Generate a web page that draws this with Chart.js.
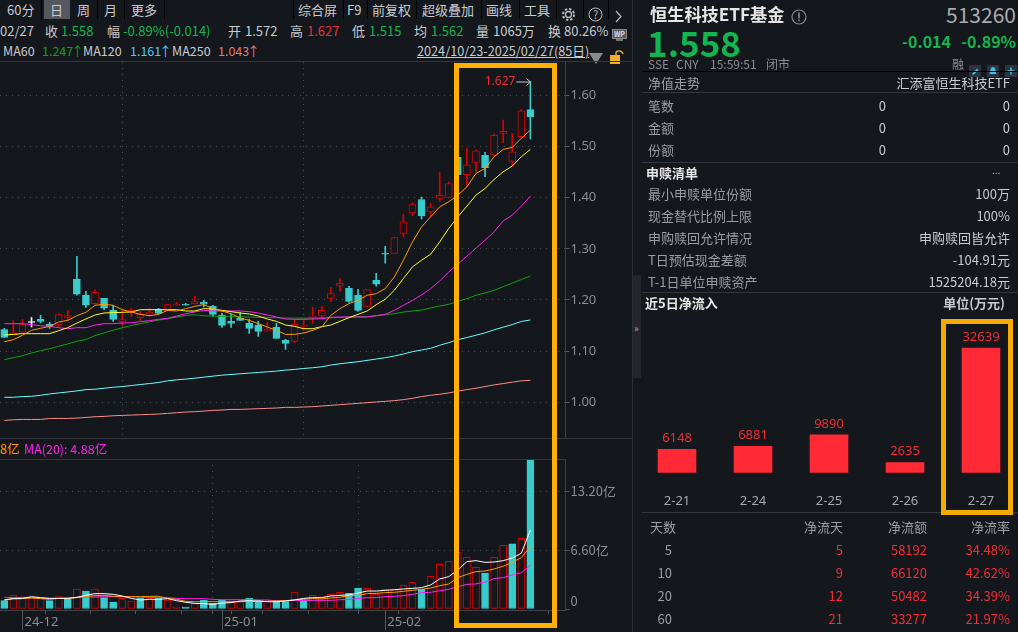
<!DOCTYPE html>
<html>
<head>
<meta charset="utf-8">
<script src="https://cdn.jsdelivr.net/npm/chart.js@4"></script>
<style>
  html, body { margin: 0; padding: 0; background: #14171c; width: 1018px; height: 632px; overflow: hidden; }
  body { position: relative; font-family: "Noto Sans CJK SC", "Noto Sans", sans-serif; }
  canvas { position: absolute; }
  .txt { position: absolute; white-space: nowrap; }
  .box { position: absolute; box-sizing: border-box; border: 5px solid #ffb000; }
  .rule { position: absolute; background: #33363c; }
</style>
</head>
<body>
<canvas id="priceChart" width="630" height="376" style="left:0;top:62px"></canvas>
<canvas id="volumeChart" width="630" height="173" style="left:0;top:459px"></canvas>
<canvas id="flowChart" width="380" height="190" style="left:639px;top:325px"></canvas>
<script>
const openPrices = [1.142,1.132,1.137,1.156,1.1623,1.1524,1.1511,1.1661,1.2405,1.2092,1.1929,1.2033,1.1798,1.157,1.176,1.1656,1.1727,1.1818,1.1786,1.1897,1.1916,1.1922,1.1955,1.1876,1.17,1.1583,1.1642,1.1544,1.1505,1.1394,1.1465,1.1211,1.1192,1.1485,1.1661,1.1687,1.2033,1.2275,1.2229,1.2092,1.1876,1.2385,1.2914,1.2908,1.3299,1.3703,1.3964,1.3723,1.3984,1.4003,1.4786,1.4447,1.4688,1.4825,1.4832,1.5256,1.4708,1.5191,1.572];
const highPrices = [1.1446,1.16,1.162,1.1655,1.17,1.1564,1.1733,1.1798,1.2855,1.217,1.2203,1.2033,1.1896,1.1798,1.1838,1.1779,1.1838,1.1838,1.1916,1.1955,1.1936,1.2073,1.1994,1.1896,1.1739,1.172,1.1759,1.1622,1.1583,1.1564,1.1544,1.1231,1.1602,1.1622,1.1857,1.1876,1.2248,1.2424,1.2268,1.2209,1.2203,1.2522,1.3051,1.3221,1.3677,1.3899,1.401,1.3886,1.4499,1.431,1.4799,1.4969,1.493,1.4884,1.5243,1.5517,1.5256,1.5726,1.627];
const lowPrices = [1.1263,1.132,1.137,1.1472,1.1551,1.1446,1.1485,1.1602,1.2092,1.1857,1.1916,1.1811,1.1583,1.1505,1.1681,1.1602,1.1681,1.1733,1.178,1.1897,1.1897,1.1916,1.1864,1.1681,1.1465,1.1465,1.1602,1.1348,1.1289,1.1387,1.125,1.1035,1.1172,1.1407,1.1544,1.1642,1.1974,1.217,1.1955,1.1779,1.1876,1.2268,1.2718,1.2908,1.3234,1.3645,1.3586,1.3625,1.3925,1.4003,1.4447,1.4212,1.4506,1.4408,1.4799,1.5073,1.4617,1.5171,1.515];
const closePrices = [1.127,1.136,1.152,1.156,1.1583,1.1485,1.1713,1.1694,1.2112,1.1897,1.215,1.1838,1.1622,1.1616,1.1798,1.1721,1.176,1.174,1.1909,1.1916,1.1897,1.1968,1.1916,1.172,1.1505,1.1544,1.1602,1.1446,1.1387,1.1426,1.125,1.1152,1.1524,1.1505,1.1681,1.1798,1.2125,1.2327,1.1974,1.1798,1.2203,1.2307,1.2894,1.3221,1.3527,1.3866,1.3645,1.3821,1.4043,1.4277,1.4447,1.4643,1.4917,1.4584,1.5217,1.5295,1.4897,1.5699,1.558];

const ma5 = [1.1185,1.1224,1.1309,1.1407,1.1446,1.1485,1.157,1.1602,1.1694,1.1759,1.1896,1.1916,1.1896,1.1811,1.1766,1.172,1.1694,1.172,1.1798,1.1785,1.1831,1.1876,1.1909,1.1831,1.1785,1.1733,1.1648,1.1602,1.1537,1.1472,1.1407,1.1328,1.1328,1.1355,1.1407,1.1472,1.17,1.1831,1.1929,1.1994,1.2092,1.2124,1.2223,1.245,1.2777,1.3135,1.3429,1.3624,1.3821,1.3919,1.4049,1.4212,1.4473,1.4571,1.4799,1.4943,1.4982,1.5158,1.5321];
const ma10 = [1.1315,1.1328,1.1342,1.1342,1.1342,1.1342,1.14,1.1459,1.155,1.1629,1.1707,1.1746,1.1752,1.1759,1.1766,1.1811,1.1811,1.1811,1.1811,1.1811,1.1785,1.1785,1.1831,1.1824,1.1798,1.1772,1.1746,1.1726,1.1687,1.1629,1.1583,1.1511,1.1485,1.1439,1.1439,1.1479,1.1511,1.1583,1.1655,1.172,1.1785,1.1909,1.2014,1.219,1.2419,1.2646,1.2777,1.2894,1.3135,1.3397,1.3625,1.3834,1.4049,1.418,1.4356,1.4506,1.4617,1.4799,1.4943];
const ma20 = [1.1537,1.1537,1.1537,1.1518,1.1498,1.1485,1.1459,1.1439,1.1459,1.1459,1.1511,1.1537,1.1537,1.155,1.1557,1.1576,1.1596,1.1622,1.1642,1.1687,1.1733,1.1766,1.1798,1.1785,1.1785,1.1785,1.1785,1.1772,1.1746,1.1707,1.1668,1.1629,1.1622,1.1622,1.1629,1.1635,1.1661,1.1668,1.1668,1.1668,1.1668,1.1694,1.172,1.1798,1.1896,1.1994,1.2098,1.2223,1.2372,1.2548,1.2699,1.2856,1.3013,1.3169,1.3332,1.3547,1.3658,1.3834,1.403];
const ma60 = [1.0833,1.0872,1.0912,1.0964,1.101,1.1049,1.1095,1.1141,1.1194,1.1226,1.1305,1.1358,1.141,1.1456,1.1502,1.1535,1.1574,1.1607,1.1633,1.1666,1.1699,1.1712,1.1692,1.1685,1.1679,1.1679,1.1672,1.1666,1.1659,1.1659,1.1653,1.1646,1.1646,1.1646,1.1646,1.1653,1.1653,1.1659,1.1666,1.1672,1.1672,1.1692,1.1712,1.1731,1.1764,1.1784,1.1803,1.1843,1.1882,1.1915,1.1974,1.2026,1.2092,1.2138,1.219,1.226,1.233,1.24,1.247];
const ma120 = [1.0099,1.0099,1.0112,1.0118,1.0138,1.0164,1.0184,1.0203,1.0223,1.0249,1.0256,1.0276,1.0295,1.0308,1.0328,1.0348,1.0367,1.0387,1.042,1.044,1.0453,1.0472,1.0492,1.0512,1.0531,1.0544,1.0558,1.0571,1.0584,1.0597,1.061,1.063,1.0643,1.0662,1.0676,1.0695,1.0728,1.0754,1.0774,1.0794,1.082,1.0846,1.0872,1.0905,1.0944,1.099,1.1023,1.1056,1.1115,1.1167,1.1226,1.1266,1.1312,1.1358,1.1417,1.1469,1.1521,1.158,1.161];
const ma250 = [0.9646,0.9659,0.9666,0.9666,0.9666,0.9685,0.9685,0.9685,0.9692,0.9705,0.9718,0.9725,0.9738,0.9744,0.9751,0.9758,0.9764,0.9771,0.9784,0.9797,0.981,0.9817,0.983,0.9843,0.9849,0.9862,0.9862,0.9869,0.9876,0.9882,0.9889,0.9902,0.9902,0.9908,0.9915,0.9928,0.9941,0.9954,0.9967,0.998,0.9994,1.0007,1.002,1.0033,1.0053,1.0079,1.0112,1.0138,1.0158,1.0184,1.0217,1.0249,1.0276,1.0308,1.0341,1.0367,1.0394,1.042,1.043];

const volumes = [0.93,1.53,1.19,1.27,1.19,0.93,1.38,1.12,2.24,2.01,2.24,1.27,0.78,1.19,0.9,1.19,1.19,1.19,1.01,0.22,0.22,0.63,1.01,0.63,1.01,0.9,0.82,1.19,0.93,0.9,0.82,0.82,1.9,0.93,1.53,1.38,1.64,1.87,1.75,2.31,2.31,1.64,2.2,2.16,2.65,2.99,2.2,3.66,5,5.34,6.34,5.78,4.66,4.03,5.78,7.13,7.28,7.91,16.68];
const volumeUp = [0,1,1,1,1,0,1,0,1,0,1,0,0,1,1,0,1,0,1,1,0,1,0,0,0,1,1,0,0,1,0,0,1,0,1,1,1,1,0,0,1,1,1,1,1,1,0,1,1,1,1,1,1,0,1,1,0,1,0];
const volMa5 = [1.01,1.19,1.19,1.38,1.27,1.19,1.19,1.19,1.31,1.53,1.72,1.72,1.64,1.46,1.19,1.01,1.08,1.08,1.16,0.93,0.75,0.63,0.6,0.52,0.67,0.71,0.9,0.93,0.9,0.82,0.82,0.9,1.01,1.19,1.27,1.27,1.46,1.53,1.57,1.79,2.01,2.01,2.09,2.16,2.24,2.31,2.39,2.69,3.36,3.62,4.37,5.3,5.41,5.22,5.26,5.41,5.71,6.23,8.84];
const volMa10 = [1.01,1.12,1.16,1.23,1.16,1.08,1.19,1.19,1.27,1.42,1.49,1.53,1.42,1.38,1.38,1.38,1.42,1.42,1.19,1.08,0.86,0.82,0.82,0.82,0.82,0.82,0.82,0.86,0.82,0.86,0.9,0.93,1.04,1.08,1.16,1.12,1.23,1.31,1.49,1.53,1.72,1.75,1.83,1.87,1.98,2.09,2.2,2.35,2.61,2.8,3.51,3.88,4.18,4.25,4.48,4.78,5.22,5.75,6.98];
const volMa20 = [1.31,1.27,1.31,1.27,1.23,1.19,1.19,1.23,1.31,1.34,1.34,1.38,1.38,1.38,1.38,1.34,1.31,1.31,1.27,1.19,1.16,1.16,1.16,1.08,1.04,1.04,1.04,1.08,1.01,1.01,0.93,0.93,0.97,0.93,0.97,0.97,0.97,1.04,1.08,1.16,1.27,1.27,1.38,1.42,1.49,1.64,1.83,1.87,2.05,2.2,2.5,2.76,2.8,3.02,3.4,3.51,3.81,4.07,4.88];

const priceTicks = [1.0, 1.1, 1.2, 1.3, 1.4, 1.5, 1.6];
const volumeTicks = [0, 6.6, 13.2];
const dateTicks = [7, 12, 17, 22, 26, 31, 36, 45, 55];
const monthTicks = { 2: "24-12", 24: "25-01", 42: "25-02" };

const flowDates = ["2-21", "2-24", "2-25", "2-26", "2-27"];
const flowValues = [6148, 6881, 9890, 2635, 32639];

const flowDays = ["5", "10", "20", "60"];
const flowCounts = ["5", "9", "12", "21"];
const flowAmounts = ["58192", "66120", "50482", "33277"];
const flowRates = ["34.48%", "42.62%", "34.39%", "21.97%"];

const RED = "#dc0000";
const TEAL = "#38cccc";
const BG = "#14171c";
const GREEN = "#14b450";
const TEXT_RED = "#f02d37";
const GREY = "#9a9da2";
const LIGHT = "#c8cbd0";

function xy(values) {
  return values.map((v, i) => ({ x: i, y: v }));
}

function lineSet(values, color) {
  return { type: "line", data: xy(values), borderColor: color, borderWidth: 1, pointRadius: 0, tension: 0, order: 1 };
}

function gridColor(major, ctx) {
  return ctx.tick && major.includes(ctx.tick.value) ? "#4a4d52" : "rgba(0,0,0,0)";
}

// tick labels must not shrink the plot, the areas are set by hand
function fitScale(scale, width, height) {
  if (width !== undefined) scale.width = width;
  if (height !== undefined) scale.height = height;
  scale.paddingTop = 0;
  scale.paddingBottom = 0;
  scale.paddingLeft = 0;
  scale.paddingRight = 0;
}

// wick + body are two floating bar sets on the same x values
const candleColor = openPrices.map((o, i) =>
  o === closePrices[i] ? "#ffffff" : closePrices[i] > o ? RED : TEAL
);

const priceChart = new Chart(document.querySelector("#priceChart"), {
  type: "bar",
  data: {
    datasets: [
      lineSet(ma5, "#ff9900"),
      lineSet(ma10, "#ffff22"),
      lineSet(ma20, "#ff22ee"),
      lineSet(ma60, "#12a012"),
      lineSet(ma120, "#66ffff"),
      lineSet(ma250, "#ff8c8c"),
      {
        data: openPrices.map((o, i) => ({ x: i, y: [o, closePrices[i]] })),
        backgroundColor: candleColor.map((c) => (c === RED ? BG : c)),
        borderColor: candleColor,
        borderWidth: 1,
        borderSkipped: false,
        barThickness: 7,
        minBarLength: 1,
        grouped: false,
        order: 5,
      },
      {
        data: lowPrices.map((l, i) => ({ x: i, y: [l, highPrices[i]] })),
        backgroundColor: candleColor,
        barThickness: 1,
        grouped: false,
        order: 6,
      },
    ],
  },
  options: {
    animation: false,
    responsive: false,
    devicePixelRatio: 1,
    layout: { autoPadding: false },
    plugins: { legend: { display: false }, tooltip: { enabled: false } },
    scales: {
      x: {
        type: "linear",
        offset: false,
        min: -0.474,
        max: 61.87,
        afterBuildTicks: (s) => { s.ticks = Object.keys(monthTicks).map((v) => ({ value: +v })); },
        afterFit: (s) => fitScale(s, undefined, 0),
        ticks: { display: false },
        border: { display: false, dash: [1, 5] },
        grid: { drawTicks: false, color: (ctx) => gridColor([2, 24, 42], ctx) },
      },
      y: {
        position: "right",
        min: 0.9303,
        max: 1.6651,
        afterBuildTicks: (s) => { s.ticks = priceTicks.map((v) => ({ value: v })); },
        afterFit: (s) => fitScale(s, 64.5),
        ticks: { color: "#8a8d92", font: { size: 13, family: "Noto Sans" }, padding: 1, callback: (v) => v.toFixed(2) },
        border: { color: "#3d4046", dash: [1, 5] },
        grid: { color: "#4a4d52", tickColor: "#55585d", tickLength: 4, tickBorderDash: [] },
      },
    },
  },
  plugins: [{
    id: "highMark",
    afterDraw(chart) {
      const ctx = chart.ctx;
      const x = chart.scales.x.getPixelForValue(58);
      const y = chart.scales.y.getPixelForValue(Math.max(...highPrices));
      ctx.save();
      ctx.fillStyle = TEXT_RED;
      ctx.font = "12px 'Noto Sans'";
      ctx.textAlign = "right";
      ctx.textBaseline = "middle";
      ctx.fillText("1.627", x - 15, y);
      ctx.strokeStyle = "#c8c8c8";
      ctx.lineWidth = 1;
      ctx.beginPath();
      ctx.moveTo(x - 14, y + 0.5);
      ctx.lineTo(x, y + 0.5);
      ctx.moveTo(x - 4, y - 3);
      ctx.lineTo(x, y + 0.5);
      ctx.lineTo(x - 4, y + 4);
      ctx.stroke();
      ctx.restore();
    },
  }],
});

const volumeChart = new Chart(document.querySelector("#volumeChart"), {
  type: "bar",
  data: {
    datasets: [
      lineSet(volMa5, "#ffffff"),
      lineSet(volMa10, "#ff9900"),
      lineSet(volMa20, "#ff22ee"),
      {
        data: xy(volumes),
        backgroundColor: volumeUp.map((u) => (u ? BG : TEAL)),
        borderColor: volumeUp.map((u) => (u ? RED : TEAL)),
        borderWidth: 1,
        borderSkipped: false,
        barThickness: 7,
        order: 5,
      },
    ],
  },
  options: {
    animation: false,
    responsive: false,
    devicePixelRatio: 1,
    layout: { autoPadding: false },
    plugins: { legend: { display: false }, tooltip: { enabled: false } },
    scales: {
      x: {
        type: "linear",
        offset: false,
        min: -0.474,
        max: 61.87,
        afterBuildTicks: (s) => {
          s.ticks = dateTicks.concat([2, 24, 42]).sort((a, b) => a - b).map((v) => ({ value: v }));
        },
        afterFit: (s) => fitScale(s, undefined, 22),
        ticks: {
          color: "#8a8d92",
          font: { size: 13, family: "Noto Sans" },
          autoSkip: false,
          maxRotation: 0,
          align: "start",
          labelOffset: 2,
          padding: 0,
          callback: (v) => monthTicks[v] || "",
        },
        border: { color: "#3d4046", dash: [1, 5] },
        grid: { color: (ctx) => gridColor([2, 24, 42], ctx), tickColor: "#55585d", tickLength: 4, tickBorderDash: [] },
      },
      y: {
        position: "right",
        min: -0.11,
        max: 16.78,
        afterBuildTicks: (s) => { s.ticks = volumeTicks.map((v) => ({ value: v })); },
        afterFit: (s) => fitScale(s, 64.5),
        ticks: {
          color: "#8a8d92",
          font: { size: 13, family: "Noto Sans CJK SC" },
          padding: 1,
          // the 0 label sits higher than its tick in the terminal, two lines push it up
          callback: (v) => (v === 0 ? ["0", ""] : v.toFixed(2) + "亿"),
        },
        border: { color: "#3d4046", dash: [1, 5] },
        grid: {
          color: (ctx) => (ctx.tick && ctx.tick.value !== 0 ? "#4a4d52" : "rgba(0,0,0,0)"),
          tickColor: "#55585d",
          tickLength: 4,
          tickBorderDash: [],
        },
      },
    },
  },
  plugins: [{
    id: "monthLines",
    afterDraw(chart) {
      const ctx = chart.ctx;
      const area = chart.chartArea;
      ctx.save();
      ctx.strokeStyle = "#55585d";
      ctx.lineWidth = 1;
      Object.keys(monthTicks).forEach((v) => {
        const x = Math.round(chart.scales.x.getPixelForValue(+v)) + 0.5;
        ctx.beginPath();
        ctx.moveTo(x, area.bottom);
        ctx.lineTo(x, area.bottom + 20);
        ctx.stroke();
      });
      ctx.restore();
    },
  }],
});

const flowChart = new Chart(document.querySelector("#flowChart"), {
  type: "bar",
  data: {
    labels: flowDates,
    datasets: [{ data: flowValues, backgroundColor: "#ff2a35", barThickness: 38 }],
  },
  options: {
    animation: false,
    responsive: false,
    devicePixelRatio: 1,
    layout: { autoPadding: false },
    plugins: { legend: { display: false }, tooltip: { enabled: false } },
    scales: {
      x: {
        afterFit: (s) => fitScale(s, undefined, 42.3),
        border: { display: false },
        grid: { display: false },
        ticks: { color: "#a6a9ae", font: { size: 13, family: "Noto Sans" }, padding: 13 },
      },
      y: { display: false, min: 0, max: 38660 },
    },
  },
  plugins: [{
    id: "barValues",
    afterDatasetsDraw(chart) {
      const ctx = chart.ctx;
      ctx.save();
      ctx.fillStyle = TEXT_RED;
      ctx.font = "13px 'Noto Sans'";
      ctx.textAlign = "center";
      ctx.textBaseline = "middle";
      chart.getDatasetMeta(0).data.forEach((bar, i) => {
        ctx.fillText(String(flowValues[i]), bar.x, bar.y - 11);
      });
      ctx.restore();
    },
  }],
});

function addText(x, y, text, color, size, opts) {
  opts = opts || {};
  const el = document.createElement("div");
  el.className = "txt";
  el.textContent = text;
  el.style.color = color;
  el.style.fontSize = size + "px";
  el.style.lineHeight = "20px";
  el.style.top = y - 10 + "px";
  if (opts.right) {
    el.style.right = 1018 - x + "px";
  } else {
    el.style.left = x + "px";
  }
  if (opts.bold) el.style.fontWeight = "700";
  if (opts.underline) el.style.textDecoration = "underline";
  document.body.append(el);
}

function addRule(x, y, w, h, color) {
  const el = document.createElement("div");
  el.className = "rule";
  el.style.cssText = `left:${x}px;top:${y}px;width:${w}px;height:${h}px;` + (color ? `background:${color}` : "");
  document.body.append(el);
}

function addBox(x, y, w, h, color) {
  const el = document.createElement("div");
  el.className = "box";
  el.style.cssText = `left:${x}px;top:${y}px;width:${w}px;height:${h}px;` + (color ? `border-color:${color}` : "");
  document.body.append(el);
}

function addSvg(x, y, w, h, inner) {
  const el = document.createElement("div");
  el.style.cssText = `position:absolute;left:${x}px;top:${y}px;width:${w}px;height:${h}px`;
  el.innerHTML = `<svg width="${w}" height="${h}" viewBox="0 0 ${w} ${h}" xmlns="http://www.w3.org/2000/svg">${inner}</svg>`;
  document.body.append(el);
}

// toolbar
addRule(44, 0, 26, 19, "#55585f");
[41, 97, 124, 164, 293, 343, 367, 416, 481, 519, 556, 583, 608].forEach((x) => addRule(x, 0, 1, 19, "#000"));
[[7, "60分"], [50, "日"], [77, "周"], [104, "月"], [131, "更多"], [298, "综合屏"], [347, "F9"], [372, "前复权"], [422, "超级叠加"], [486, "画线"], [524, "工具"]].forEach((b) =>
  addText(b[0], 10, b[1], LIGHT, 13)
);
addSvg(561, 3, 15, 15, '<circle cx="7.5" cy="7.5" r="3" fill="none" stroke="#bbb" stroke-width="1.3"/><circle cx="7.5" cy="7.5" r="5.5" fill="none" stroke="#bbb" stroke-width="2" stroke-dasharray="2.4 1.9"/>');
addSvg(588, 3, 15, 15, '<circle cx="7.5" cy="7.5" r="6.5" fill="none" stroke="#bbb" stroke-width="1"/><text x="7.5" y="11.5" font-size="11" fill="#bbb" text-anchor="middle">?</text>');
addSvg(614, 4, 9, 13, '<path d="M2 1 L7 6.5 L2 12" fill="none" stroke="#bbb" stroke-width="1.2"/>');

// stats row
[[0, "02/27", LIGHT], [45, "收", LIGHT], [61, "1.558", GREEN], [107, "幅", LIGHT], [123, "-0.89%(-0.014)", GREEN], [228, "开", LIGHT], [245, "1.572", LIGHT], [290, "高", LIGHT], [307, "1.627", TEXT_RED], [352, "低", LIGHT], [369, "1.515", GREEN], [414, "均", LIGHT], [431, "1.562", GREEN], [476, "量", LIGHT], [493, "1065万", LIGHT], [548, "换", LIGHT], [564, "80.26%", LIGHT]].forEach((s) =>
  addText(s[0], 31, s[1], s[2], 13)
);
addSvg(612, 23, 15, 13, '<rect x="0.5" y="0.5" width="14" height="9" fill="#55585d" stroke="#888"/><text x="7.5" y="8" font-size="7" font-weight="700" fill="#ddd" text-anchor="middle">WP</text><rect x="4" y="10" width="7" height="2" fill="#777"/>');

// MA row, the arrow glyph is full width so it is placed on its own
[[3, "MA60", LIGHT], [42, "1.247", "#12a012"], [83, "MA120", LIGHT], [130, "1.161", "#4fc8f0"], [172, "MA250", LIGHT], [218, "1.043", "#e07a7a"]].forEach((s) =>
  addText(s[0], 51, s[1], s[2], 12.5)
);
[[71, "#12a012"], [159, "#4fc8f0"], [247, "#e07a7a"]].forEach((a) => addText(a[0], 51, "↑", a[1], 13));
addText(417, 51, "2024/10/23-2025/02/27(85日)", LIGHT, 12.7, { underline: true });
addSvg(589, 45, 15, 11, '<path d="M0 0 L14 0 L7 11 Z" fill="#8a8a8a"/>');
addSvg(610, 45, 16, 14, '<rect x="0" y="5" width="10" height="9" fill="#f0ac30"/><path d="M6 5 V3 C6 0 12 0 13 4" fill="none" stroke="#f0ac30" stroke-width="1.4"/>');

// volume header
addRule(0, 61, 632, 1);
addRule(0, 438, 632, 1);
addRule(0, 459, 565, 1);
addText(0, 449, "8亿", "#ff9900", 12.5);
addText(24, 449, "MA(20): 4.88亿", "#ff22ee", 12.5);

// right panel
addRule(632, 0, 1, 632, "#2b2e33");
addRule(633, 275, 8, 103, "#24262b");
addText(634, 328, "»", "#aaa", 10);
addText(650, 14, "恒生科技ETF基金", "#e6e6e6", 17.2, { bold: true });
addSvg(791, 6, 16, 16, '<circle cx="8" cy="8" r="7" fill="none" stroke="#888" stroke-width="1.2"/><rect x="7.2" y="3.5" width="1.6" height="6" fill="#888"/><rect x="7.2" y="10.5" width="1.6" height="1.8" fill="#888"/>');
addText(1016, 14, "513260", "#a8abaf", 21, { right: true });
addText(647, 42, "1.558", GREEN, 35, { bold: true });
addText(951, 41, "-0.014", GREEN, 16, { right: true, bold: true });
addText(1016, 41, "-0.89%", GREEN, 16, { right: true, bold: true });
[[648, "SSE"], [676, "CNY"], [710, "15:59:51"], [766, "闭市"], [952, "融"]].forEach((s) => addText(s[0], 64, s[1], "#8a8d92", 12));
addSvg(969, 58, 12, 12, '<rect width="12" height="12" fill="#2a3540"/><path d="M3 9 L8 3.5 L9.5 5 L4.5 10 Z" fill="#45bde0"/>');
addSvg(987, 58, 12, 12, '<rect width="12" height="12" fill="#2a3540"/><path d="M6 2 C3 2 3.5 6 2.5 9 H9.5 C8.5 6 9 2 6 2 Z" fill="#45bde0"/>');
addSvg(1005, 58, 12, 12, '<rect width="12" height="12" fill="#2a3540"/><path d="M6 2.5 V9.5 M2.5 6 H9.5" stroke="#45bde0" stroke-width="1.6"/>');

addRule(642, 71, 376, 1, "#000");
addText(648, 83, "净值走势", GREY, 13);
addText(1010, 83, "汇添富恒生科技ETF", LIGHT, 13, { right: true });
addRule(642, 92, 376, 1);
[[106, "笔数"], [128, "金额"], [150, "份额"]].forEach((r) => {
  addText(648, r[0], r[1], GREY, 13);
  addText(886, r[0], "0", LIGHT, 13, { right: true });
  addText(1010, r[0], "0", LIGHT, 13, { right: true });
});
addRule(642, 162, 376, 1);

addText(646, 173, "申赎清单", "#e6e6e6", 13, { bold: true });
addText(992, 170, "...", LIGHT, 10);
[[194, "最小申赎单位份额", "100万"], [216, "现金替代比例上限", "100%"], [238, "申购赎回允许情况", "申购赎回皆允许"], [260, "T日预估现金差额", "-104.91元"], [282, "T-1日单位申赎资产", "1525204.18元"]].forEach((r) => {
  addText(648, r[0], r[1], GREY, 13);
  addText(1010, r[0], r[2], LIGHT, 13, { right: true });
});
addRule(642, 292, 376, 1);
addText(645, 303, "近5日净流入", "#e6e6e6", 13, { bold: true });
addText(1005, 303, "单位(万元)", LIGHT, 13, { right: true, bold: true });

addRule(642, 512, 376, 1);
addText(650, 527, "天数", GREY, 13);
addText(843, 527, "净流天", GREY, 13, { right: true });
addText(927, 527, "净流额", GREY, 13, { right: true });
addText(1010, 527, "净流率", GREY, 13, { right: true });
flowDays.forEach((d, i) => {
  const y = 550 + i * 23;
  addText(672, y, d, GREY, 13, { right: true });
  addText(843, y, flowCounts[i], TEXT_RED, 13, { right: true });
  addText(927, y, flowAmounts[i], TEXT_RED, 13, { right: true });
  addText(1010, y, flowRates[i], TEXT_RED, 13, { right: true });
});

// highlight frames
addBox(454, 63, 103, 565);
addBox(941, 319, 72, 196, "#f5aa00");
</script>
</body>
</html>
